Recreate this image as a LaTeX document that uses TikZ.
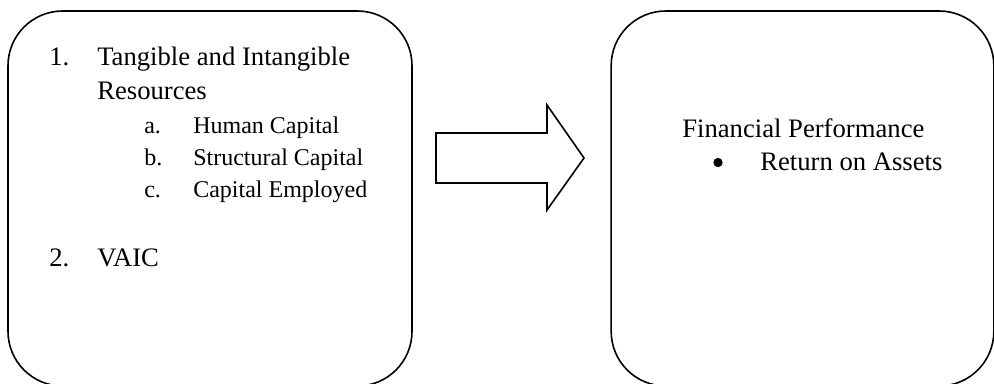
\documentclass[tikz,border=0pt]{standalone}
\usepackage{fontspec}
\setmainfont{Liberation Serif}
\usetikzlibrary{positioning}

\begin{document}
\begin{tikzpicture}[x=0.75pt, y=-0.75pt,
  panel/.style={draw, line width=1.2pt, rounded corners=41pt, inner sep=0pt,
    minimum height=281.25pt},
  main/.style={anchor=base west, inner sep=0pt, font=\fontsize{20}{24}\selectfont},
  sub/.style={anchor=base west, inner sep=0pt, font=\fontsize{18}{21}\selectfont}]

  \useasboundingbox (0,0) rectangle (994,383);
  \clip (0,0) rectangle (994,383);

  % --- Two panels ---
  \node[panel, minimum width=303pt] (resources) at (210,198.5) {};
  \node[panel, minimum width=287pt] (performance) at (802.5,198.5) {};

  % --- Block arrow between them ---
  \coordinate (tail) at (436,158);
  \draw[line width=1.2pt] (tail) ++(0,-25) -- ++(111,0) -- ++(0,-28)
    -- (584,158) -- (547,210) -- ++(0,-27) -- ++(-111,0) -- cycle;

  % Left panel text
  \node[main] (num1) at (49,65) {1.};
  \node[main] (item1) at (97,65) {Tangible and Intangible};
  \node[main] (item1b) at (97,99) {Resources};
  \node[sub] (numa) at (144,133) {a.};
  \node[sub] (itema) at (193,133) {Human Capital};
  \node[sub] (numb) at (144,165) {b.};
  \node[sub] (itemb) at (193,165) {Structural Capital};
  \node[sub] (numc) at (144,197) {c.};
  \node[sub] (itemc) at (193,197) {Capital Employed};
  \node[main] (num2) at (49,266) {2.};
  \node[main] (item2) at (97,266) {VAIC};

  % Right panel text
  \node[main] (fin) at (682,137) {Financial Performance};
  \node[circle, fill, inner sep=0pt, minimum size=7pt] (dot) at (718,162.5) {};
  \node[main] (roa) at (760,170) {Return on Assets};

\end{tikzpicture}
\end{document}
